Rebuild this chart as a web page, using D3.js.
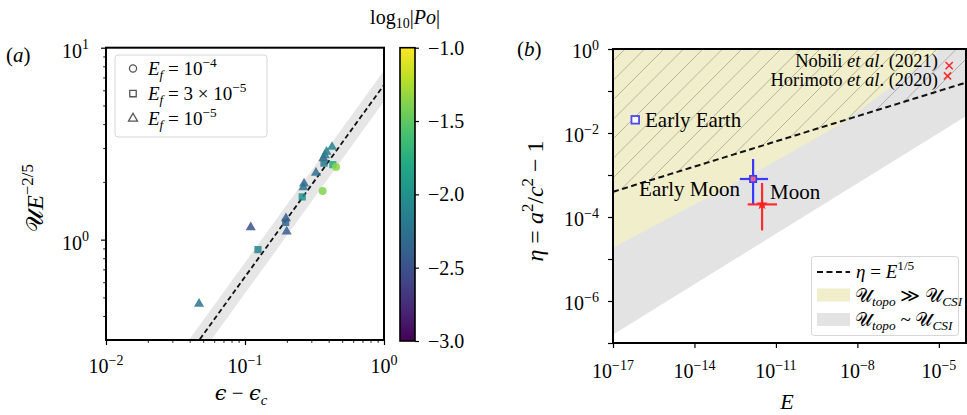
<!DOCTYPE html>
<html><head><meta charset="utf-8">
<script src="https://cdn.jsdelivr.net/npm/d3@7"></script>
<style>
body{margin:0;background:#fff}
svg{display:block}
text{font-family:"Liberation Serif","DejaVu Serif",serif;fill:#000}
</style>
</head><body>
<svg id="c" width="967" height="415"></svg>
<script>
// ---------------- Panel (a) data ----------------
const aShape = ["tri","tri","sq","tri","sq","tri","sq","tri","tri","tri","circ","tri","tri","tri","tri","sq","sq","circ"];
const aEps   = [0.0467,0.110,0.124,0.197,0.196,0.1995,0.258,0.266,0.263,0.324,0.362,0.366,0.376,0.386,0.423,0.370,0.428,0.452];
const aU     = [0.463,1.16,0.887,1.29,1.23,1.10,1.67,1.96,1.87,2.23,1.79,2.65,2.75,2.87,3.04,2.50,2.46,2.39];
const aLogPo = [-2.25,-2.5,-2.1,-2.45,-2.35,-2.4,-2.0,-2.35,-2.25,-2.3,-1.38,-2.4,-2.2,-2.15,-2.1,-2.2,-1.8,-1.35];
const aFitCoef = 6.4, aBandHi = 7.6, aBandLo = 5.25;
const aXDomain = [0.01, 1], aYDomain = [0.3, 10];
const aXTicks = [0.01, 0.1, 1], aXTickExp = ["−2","−1","0"];
const aYTicks = [1, 10], aYTickExp = ["0","1"];
const aLegendLabels = [["10","−4"],["3 × 10","−5"],["10","−5"]];
const aLegendShapes = ["circ","sq","tri"];
const cbDomain = [-3, -1];
const cbTicks = [-1.0, -1.5, -2.0, -2.5, -3.0];

// ---------------- Panel (b) data ----------------
const bXDomain = [1e-17, 1e-4], bYDomain = [1e-7, 1];
const bXTicks = [1e-17, 1e-14, 1e-11, 1e-8, 1e-5], bXTickExp = ["−17","−14","−11","−8","−5"];
const bYMajor = [1, 1e-1, 1e-2, 1e-3, 1e-4, 1e-5, 1e-6, 1e-7];
const bYTicks = [1, 1e-2, 1e-4, 1e-6], bYTickExp = ["0","−2","−4","−6"];
const yellowLogE   = [-17, -14, -11.79, -8.56, -6.5, -4.9];
const yellowLogEta = [-4.73, -3.70, -2.95, -1.77, -0.78, 0];
const greyExp = 0.4;       // lower grey boundary eta = E^(2/5)
const dashExp = 0.2;       // eta = E^(1/5)
const earlyEarth = {logE: -16.18, logEta: -1.686};
const earlyMoon = {logE: -11.84, logEta: -3.095, logElo: -12.33, logEhi: -11.29, logEtaLo: -3.705, logEtaHi: -2.62};
const moon      = {logE: -11.51, logEta: -3.70, logElo: -12.04, logEhi: -10.96, logEtaLo: -4.32, logEtaHi: -3.19};
const refNames = ["Nobili", "Horimoto"], refYears = ["(2021)", "(2020)"];
const refLogE = [-4.62, -4.68], refLogEta = [-0.396, -0.641];

// ---------------- helpers ----------------
const svg = d3.select("#c");
const defs = svg.append("defs");
function rich(parent, x, y, segs, size, anchor, rotate) {
  const t = parent.append("text").attr("x", x).attr("y", y).attr("font-size", size)
    .attr("text-anchor", anchor || "start");
  if (rotate != null) t.attr("transform", `rotate(${rotate},${x},${y})`);
  let off = 0;
  segs.forEach(s => {
    const target = s.sup ? -0.42 * size : s.sub ? 0.22 * size : 0;
    const ts = t.append("tspan").text(s.t);
    if (target !== off) { ts.attr("dy", target - off); off = target; }
    if (s.sup || s.sub) ts.attr("font-size", size * 0.7);
    if (s.it) ts.attr("font-style", "italic");
    if (s.fam) ts.attr("font-family", s.fam);
  });
  return t;
}
function minorLog(lo, hi) {
  const out = [];
  for (let d = Math.floor(Math.log10(lo)); d <= Math.ceil(Math.log10(hi)); d++)
    for (let m = 2; m <= 9; m++) { const v = m * Math.pow(10, d); if (v > lo * 1.0001 && v < hi * 0.9999) out.push(v); }
  return out;
}
function styleAxis(g, w) {
  g.select(".domain").remove();
  g.selectAll("line").attr("stroke", "#000").attr("stroke-width", w);
}
const P = v => Math.pow(10, v);

// ---------------- Panel (a) ----------------
const ax = {l: 106, r: 384, t: 47.7, b: 340};
const xA = d3.scaleLog().domain(aXDomain).range([ax.l, ax.r]);
const yA = d3.scaleLog().domain(aYDomain).range([ax.b, ax.t]);
const gA = svg.append("g");
defs.append("clipPath").attr("id", "clipA").append("rect")
  .attr("x", ax.l).attr("y", ax.t).attr("width", ax.r - ax.l).attr("height", ax.b - ax.t);
const plotA = gA.append("g").attr("clip-path", "url(#clipA)");
// band
const bandX = d3.range(0, 101).map(i => P(-2 + 2 * i / 100));
const bandPts = bandX.map(x => [xA(x), yA(aBandHi * x)]).concat(bandX.slice().reverse().map(x => [xA(x), yA(aBandLo * x)]));
plotA.append("path").attr("d", d3.line()(bandPts)).attr("fill", "#e6e6e6");
// fit line
plotA.append("path").attr("d", d3.line()([[xA(0.01), yA(aFitCoef * 0.01)], [xA(1), yA(aFitCoef)]]))
  .attr("stroke", "#111").attr("stroke-width", 1.8).attr("stroke-dasharray", "5,3").attr("fill", "none");
// points
const color = v => d3.interpolateViridis((v - cbDomain[0]) / (cbDomain[1] - cbDomain[0]));
const symType = {tri: d3.symbolTriangle, sq: d3.symbolSquare, circ: d3.symbolCircle};
const symSize = {tri: 44, sq: 52, circ: 50};
plotA.selectAll(".pt").data(aEps.map((e, i) => ({e, u: aU[i], s: aShape[i], c: aLogPo[i]})))
  .join("path")
  .attr("transform", d => `translate(${xA(d.e)},${yA(d.u)})`)
  .attr("d", d => d3.symbol().type(symType[d.s]).size(symSize[d.s])())
  .attr("fill", d => color(d.c)).attr("fill-opacity", 0.85);
// axes
const axBot = gA.append("g").attr("transform", `translate(0,${ax.b})`);
axBot.call(d3.axisBottom(xA).tickValues(aXTicks).tickSize(5).tickFormat("")); styleAxis(axBot, 1.2);
const axBotM = gA.append("g").attr("transform", `translate(0,${ax.b})`);
axBotM.call(d3.axisBottom(xA).tickValues(minorLog(0.01, 1)).tickSize(2.8).tickFormat("")); styleAxis(axBotM, 0.9);
const axLeft = gA.append("g").attr("transform", `translate(${ax.l},0)`);
axLeft.call(d3.axisLeft(yA).tickValues(aYTicks).tickSize(5).tickFormat("")); styleAxis(axLeft, 1.2);
const axLeftM = gA.append("g").attr("transform", `translate(${ax.l},0)`);
axLeftM.call(d3.axisLeft(yA).tickValues(minorLog(0.3, 10)).tickSize(2.8).tickFormat("")); styleAxis(axLeftM, 0.9);
aXTicks.forEach((v, i) => rich(gA, xA(v), 373, [{t: "10"}, {t: aXTickExp[i], sup: true}], 20, "middle"));
aYTicks.forEach((v, i) => rich(gA, 89, yA(v) + 10, [{t: "10"}, {t: aYTickExp[i], sup: true}], 20, "end"));
gA.append("rect").attr("x", ax.l).attr("y", ax.t).attr("width", ax.r - ax.l).attr("height", ax.b - ax.t)
  .attr("fill", "none").attr("stroke", "#000").attr("stroke-width", 2);
// labels
rich(gA, 241, 400, [{t: "ϵ", it: true, fam: "DejaVu Serif"}, {t: " − "}, {t: "ϵ", it: true, fam: "DejaVu Serif"}, {t: "c", it: true, sub: true}], 21, "middle");
rich(gA, 43, 198, [{t: "𝒰"}, {t: "E", it: true}, {t: "−2/5", sup: true}], 24, "middle", -90);
rich(gA, 6, 62, [{t: "("}, {t: "a", it: true}, {t: ")"}], 21, "start");
// legend (a)
const legA = gA.append("g");
legA.append("rect").attr("x", 115).attr("y", 55).attr("width", 152).attr("height", 82).attr("rx", 3)
  .attr("fill", "#fff").attr("fill-opacity", 0.85).attr("stroke", "#d6d6d6");
aLegendShapes.forEach((s, i) => {
  const cy = 68.5 + i * 25;
  legA.append("path").attr("transform", `translate(133,${cy})`)
    .attr("d", d3.symbol().type(symType[s]).size(symSize[s] * 0.8)())
    .attr("fill", "none").attr("stroke", "#555").attr("stroke-width", 1.3);
  rich(legA, 148, cy + 6, [{t: "E", it: true}, {t: "f", it: true, sub: true}, {t: " = " + aLegendLabels[i][0]}, {t: aLegendLabels[i][1], sup: true}], 19, "start");
});
// colorbar
const cb = {l: 400, r: 415, t: 47.7, b: 341};
const yCb = d3.scaleLinear().domain(cbDomain).range([cb.b, cb.t]);
const grad = defs.append("linearGradient").attr("id", "vir").attr("x1", 0).attr("y1", 1).attr("x2", 0).attr("y2", 0);
d3.range(0, 11).forEach(i => grad.append("stop").attr("offset", i / 10).attr("stop-color", d3.interpolateViridis(i / 10)));
const gCb = svg.append("g");
gCb.append("rect").attr("x", cb.l).attr("y", cb.t).attr("width", cb.r - cb.l).attr("height", cb.b - cb.t)
  .attr("fill", "url(#vir)").attr("stroke", "#000").attr("stroke-width", 1.6);
const cbAx = gCb.append("g").attr("transform", `translate(${cb.r},0)`);
cbAx.call(d3.axisRight(yCb).tickValues(cbTicks).tickSize(4).tickFormat("")); styleAxis(cbAx, 1.2);
cbTicks.forEach(v => rich(gCb, 428, yCb(v) + 7, [{t: d3.format(".1f")(v).replace("-", "−")}], 20, "start"));
rich(gCb, 405, 24, [{t: "log"}, {t: "10", sub: true}, {t: "|"}, {t: "Po", it: true}, {t: "|"}], 20, "middle");

// ---------------- Panel (b) ----------------
const bx = {l: 613, r: 966, t: 49, b: 343};
const xB = d3.scaleLog().domain(bXDomain).range([bx.l, bx.r]);
const yB = d3.scaleLog().domain(bYDomain).range([bx.b, bx.t]);
const gB = svg.append("g");
defs.append("clipPath").attr("id", "clipB").append("rect")
  .attr("x", bx.l).attr("y", bx.t).attr("width", bx.r - bx.l).attr("height", bx.b - bx.t);
const plotB = gB.append("g").attr("clip-path", "url(#clipB)");
const logEs = d3.range(0, 131).map(i => -17 + i * 0.1);
// grey region
const greyPts = logEs.map(le => [xB(P(le)), yB(P(greyExp * le))]).concat([[xB(bXDomain[1]), yB(1)], [xB(bXDomain[0]), yB(1)]]);
plotB.append("path").attr("d", d3.line()(greyPts) + "Z").attr("fill", "#e3e3e3");
// yellow region
const yelPts = yellowLogE.map((le, i) => [xB(P(le)), yB(P(yellowLogEta[i]))]).concat([[xB(bXDomain[0]), yB(1)]]);
plotB.append("path").attr("d", d3.line()(yelPts) + "Z").attr("fill", "#f0eecb");
// hatch above dashed line
const dashPts = logEs.map(le => [xB(P(le)), yB(P(dashExp * le))]);
defs.append("clipPath").attr("id", "clipH").append("path")
  .attr("d", d3.line()(dashPts.concat([[xB(bXDomain[1]), yB(1)], [xB(bXDomain[0]), yB(1)]])) + "Z");
const hatch = plotB.append("g").attr("clip-path", "url(#clipH)");
for (let x0 = bx.l - 300; x0 < bx.r + 20; x0 += 19.5) {
  hatch.append("line").attr("x1", x0).attr("y1", bx.t).attr("x2", x0 - 320).attr("y2", bx.t + 320)
    .attr("stroke", "#6a6a60").attr("stroke-opacity", 0.55).attr("stroke-width", 0.8);
}
// dashed line
plotB.append("path").attr("d", d3.line()(dashPts)).attr("fill", "none")
  .attr("stroke", "#111").attr("stroke-width", 2).attr("stroke-dasharray", "6,3.5");
// early earth
plotB.append("rect").attr("x", xB(P(earlyEarth.logE)) - 3.8).attr("y", yB(P(earlyEarth.logEta)) - 3.8)
  .attr("width", 7.6).attr("height", 7.6).attr("fill", "#fff").attr("stroke", "#4a4af0").attr("stroke-width", 1.8);
// error bars
function errBars(d, col) {
  plotB.append("line").attr("x1", xB(P(d.logElo))).attr("x2", xB(P(d.logEhi)))
    .attr("y1", yB(P(d.logEta))).attr("y2", yB(P(d.logEta))).attr("stroke", col).attr("stroke-width", 2.2);
  plotB.append("line").attr("x1", xB(P(d.logE))).attr("x2", xB(P(d.logE)))
    .attr("y1", yB(P(d.logEtaLo))).attr("y2", yB(P(d.logEtaHi))).attr("stroke", col).attr("stroke-width", 2.2);
}
errBars(earlyMoon, "#3a3aff");
errBars(moon, "#ff2a2a");
plotB.append("rect").attr("x", xB(P(earlyMoon.logE)) - 3.2).attr("y", yB(P(earlyMoon.logEta)) - 3.2)
  .attr("width", 6.4).attr("height", 6.4).attr("fill", "#f06080").attr("stroke", "#3a3aff").attr("stroke-width", 1.6);
plotB.append("path").attr("transform", `translate(${xB(P(moon.logE))},${yB(P(moon.logEta))})`)
  .attr("d", d3.symbol().type(d3.symbolStar).size(40)()).attr("fill", "#ff2020");
// refs
refLogE.forEach((le, i) => {
  const cx = xB(P(le)), cy = yB(P(refLogEta[i])), s = 3.6;
  plotB.append("path").attr("d", `M${cx - s},${cy - s}L${cx + s},${cy + s}M${cx - s},${cy + s}L${cx + s},${cy - s}`)
    .attr("stroke", "#ff2a2a").attr("stroke-width", 1.6);
});
rich(gB, 938, 67, [{t: refNames[0] + " "}, {t: "et al", it: true}, {t: ". " + refYears[0]}], 18.5, "end");
rich(gB, 938, 86, [{t: refNames[1] + " "}, {t: "et al", it: true}, {t: ". " + refYears[1]}], 18.5, "end");
rich(gB, 645, 127, [{t: "Early Earth"}], 21, "start");
rich(gB, 740, 196, [{t: "Early Moon"}], 21, "end");
rich(gB, 770, 199, [{t: "Moon"}], 21, "start");
// axes b
const bBot = gB.append("g").attr("transform", `translate(0,${bx.b})`);
bBot.call(d3.axisBottom(xB).tickValues(bXTicks).tickSize(5).tickFormat("")); styleAxis(bBot, 1.2);
const bLeft = gB.append("g").attr("transform", `translate(${bx.l},0)`);
bLeft.call(d3.axisLeft(yB).tickValues(bYMajor).tickSize(5).tickFormat("")); styleAxis(bLeft, 1.2);
bXTicks.forEach((v, i) => rich(gB, xB(v), 378, [{t: "10"}, {t: bXTickExp[i], sup: true}], 20, "middle"));
bYTicks.forEach((v, i) => rich(gB, 599, yB(v) + 9, [{t: "10"}, {t: bYTickExp[i], sup: true}], 20, "end"));
gB.append("rect").attr("x", bx.l).attr("y", bx.t).attr("width", bx.r - bx.l).attr("height", bx.b - bx.t)
  .attr("fill", "none").attr("stroke", "#000").attr("stroke-width", 2);
rich(gB, 787, 409, [{t: "E", it: true}], 22, "middle");
rich(gB, 543, 201, [{t: "η", it: true}, {t: " = "}, {t: "a", it: true}, {t: "2", sup: true}, {t: "/"}, {t: "c", it: true}, {t: "2", sup: true}, {t: " − 1"}], 24, "middle", -90);
rich(gB, 517, 56, [{t: "("}, {t: "b", it: true}, {t: ")"}], 21, "start");
// legend b
const legB = gB.append("g");
legB.append("rect").attr("x", 811.5).attr("y", 256.5).attr("width", 147).attr("height", 79).attr("rx", 3)
  .attr("fill", "#fff").attr("fill-opacity", 0.85).attr("stroke", "#d6d6d6");
legB.append("line").attr("x1", 817).attr("x2", 850).attr("y1", 272).attr("y2", 272)
  .attr("stroke", "#111").attr("stroke-width", 2).attr("stroke-dasharray", "6,3.5");
rich(legB, 856, 278, [{t: "η", it: true}, {t: " = "}, {t: "E", it: true}, {t: "1/5", sup: true}], 19, "start");
legB.append("rect").attr("x", 817).attr("y", 288.5).attr("width", 33).attr("height", 13).attr("fill", "#f0eecb");
rich(legB, 855, 302, [{t: "𝒰"}, {t: "topo", it: true, sub: true}, {t: " ≫ "}, {t: "𝒰"}, {t: "CSI", it: true, sub: true}], 19, "start");
legB.append("rect").attr("x", 817).attr("y", 313).attr("width", 33).attr("height", 13).attr("fill", "#e3e3e3");
rich(legB, 855, 326, [{t: "𝒰"}, {t: "topo", it: true, sub: true}, {t: " ~ "}, {t: "𝒰"}, {t: "CSI", it: true, sub: true}], 19, "start");
</script>
</body></html>
